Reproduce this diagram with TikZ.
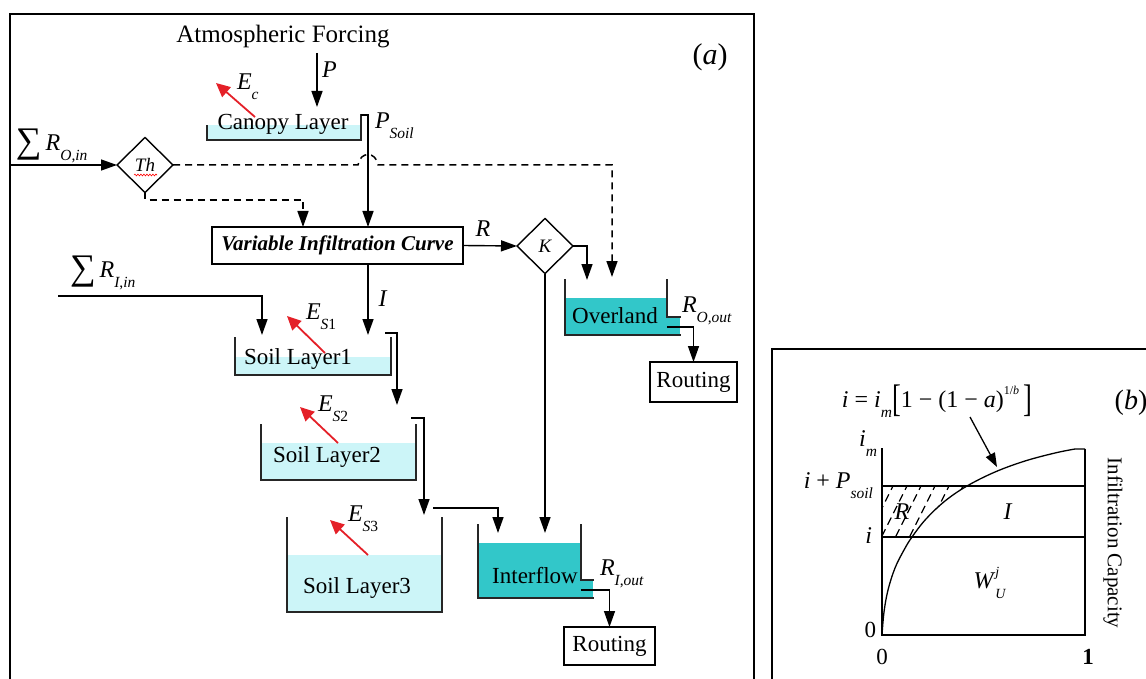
\documentclass[tikz,border=0pt]{standalone}
\usepackage{fontspec}
\usepackage{graphicx}
\setmainfont{Liberation Serif}
\usetikzlibrary{arrows.meta,shapes.geometric,decorations.pathmorphing,calc}

\definecolor{layerfill}{RGB}{204,245,248}
\definecolor{flowfill}{RGB}{50,199,201}
\definecolor{evapred}{RGB}{228,32,40}

% symbol with a lowered subscript
\newcommand\subsc[2]{#1\raisebox{-0.42em}{\fontsize{15.5}{16}\selectfont #2}}
% large summation sign
\newcommand\bigsum{\raisebox{-0.1em}{\fontsize{36}{36}\selectfont ∑}}

\tikzset{
  every node/.style={inner sep=0pt, outer sep=0pt},
  txt/.style={font=\fontsize{23}{26}\selectfont},
  var/.style={font=\fontsize{24}{26}\selectfont},
  wall/.style={line width=1.8pt, draw=black!85, line cap=rect},
  flow/.style={line width=1.4pt, -{Triangle[length=16pt,width=11pt]}},
  dflow/.style={flow, line width=1.5pt, dash pattern=on 7pt off 5pt},
  evap/.style={line width=1.8pt, evapred, -{Triangle[length=14pt,width=13pt]}},
  gate/.style={diamond, draw, line width=1.4pt, minimum width=56pt, minimum height=55pt,
               font=\fontsize{19}{20}\selectfont\itshape},
  procbox/.style={draw, line width=1.4pt, rectangle},
  plotline/.style={line width=1.3pt},
}

\begin{document}
\begin{tikzpicture}[x=1pt,y=-1pt]
\useasboundingbox (0,0) rectangle (1146,679);
\clip (0,0) rectangle (1146,679);

% ---------------- panel frames ----------------
\draw[line width=1.8pt] (10,14) rectangle (754,700);
\draw[line width=1.8pt] (772,349) rectangle (1170,700);

% ---------------- panel (a) ----------------
\node[font=\fontsize{25}{26}\selectfont] (atm) at (283,37) {Atmospheric Forcing};
\node[font=\fontsize{30}{30}\selectfont] (tagA) at (710,57) {(\textit{a})};

% canopy layer
\fill[layerfill] (207,125) rectangle (361,140);
\draw[wall] (207,126) -- (207,140) -- (361,140) -- (361,115);
\node[txt] (canopy) at (283,124) {Canopy Layer};
\coordinate (ptop) at (317,53);
\coordinate (canopyin) at (317,107);
\draw[flow] (ptop) -- (canopyin);
\node[var, anchor=west] (plab) at (322,70) {\textit{P}};
\coordinate (ecfrom) at (255,117);
\coordinate (ecto) at (216,83);
\draw[evap] (ecfrom) -- (ecto);
\node[var, anchor=west] (ec) at (237,87) {\subsc{\textit{E}}{\textit{c}}};

% decision nodes and infiltration curve
\node[gate] (th) at (145,165) {Th};
\draw[red, line width=0.6pt, decorate, decoration={snake, amplitude=0.9pt, segment length=3pt}] (134,175) -- (157,175);
\node[gate] (k) at (545,246) {K};
\node[procbox, minimum width=251pt, minimum height=37pt,
      font=\fontsize{21}{22}\selectfont\bfseries\itshape] (vic) at (337.5,245.5) {Variable Infiltration Curve};

% surface inflow and threshold
\node[var, anchor=west] (roin) at (16,146) {\bigsum\,\subsc{\textit{R}}{\textit{O},\textit{in}}};
\coordinate (roinstart) at (10,165);
\draw[flow] (roinstart) -- (th.west);

% canopy throughfall
\coordinate (canopyout) at (361,115);
\coordinate (psoil) at (368,115);
\draw[flow] (canopyout) -- (psoil) -- (psoil |- vic.north);
\node[var, anchor=west] (psoillab) at (375,126) {\subsc{\textit{P}}{\textit{Soil}}};

% dashed threshold routes (hop over the throughfall line)
\coordinate (ovin2) at (612,277);
\draw[dflow] (th.east) -- (358,165) .. controls (360,151) and (376,151) .. (378,165) -| (ovin2);
\coordinate (vicin1) at (303,227);
\draw[dflow] (th.south) -- (145,200) -| (vicin1);

% runoff
\draw[flow] (vic.east) -- (k.west);
\node[var] (rlabA) at (483,229) {\textit{R}};
\coordinate (ovin1) at (587,280);
\draw[flow] (k.east) -| (ovin1);
\coordinate (ifin2) at (545,533);
\draw[flow] (k.south) -- (ifin2);

% overland store
\fill[flowfill] (565,298) rectangle (667,335);
\fill[flowfill] (667,317) rectangle (680,335);
\draw[wall] (565,280) -- (565,335) -- (680,335);
\draw[wall] (667,280) -- (667,317) -- (680,317);
\node[txt] (overland) at (615,316) {Overland};
\node[var, anchor=west] (roout) at (682,311) {\subsc{\textit{R}}{\textit{O},\textit{out}}};
\node[procbox, txt, minimum width=87pt, minimum height=40pt] (route1) at (693.5,382) {Routing};
\coordinate (ovout) at (667,327);
\draw[flow] (ovout) -| (route1.north);

% soil layer 1
\fill[layerfill] (235,357) rectangle (391,375);
\draw[wall] (235,338) -- (235,375) -- (391,375) -- (391,338);
\node[txt] (soil1) at (298,359) {Soil Layer1};
\coordinate (soil1inI) at (368,335);
\draw[flow] (psoil |- vic.south) -- (soil1inI);
\node[var] (ilabA) at (383,299) {\textit{I}};
\node[var, anchor=west] (riin) at (70,273) {\bigsum\,\subsc{\textit{R}}{\textit{I},\textit{in}}};
\coordinate (riinstart) at (58,296);
\coordinate (soil1in) at (262,335);
\draw[flow] (riinstart) -| (soil1in);
\coordinate (es1from) at (325,353);
\coordinate (es1to) at (287,316);
\draw[evap] (es1from) -- (es1to);
\node[var, anchor=west] (es1) at (306,317) {\subsc{\textit{E}}{\textit{S}1}};

% soil layer 2
\fill[layerfill] (261,443) rectangle (416,480);
\draw[wall] (261,425) -- (261,480) -- (416,480) -- (416,425);
\node[txt] (soil2) at (327,457) {Soil Layer2};
\coordinate (soil1out) at (385,333);
\coordinate (soil2in) at (397,405);
\draw[flow] (soil1out) -| (soil2in);
\coordinate (es2from) at (338,443);
\coordinate (es2to) at (300,407);
\draw[evap] (es2from) -- (es2to);
\node[var, anchor=west] (es2) at (318,409) {\subsc{\textit{E}}{\textit{S}2}};

% soil layer 3
\fill[layerfill] (287,555) rectangle (442,612);
\draw[wall] (287,518) -- (287,612) -- (442,612) -- (442,518);
\node[txt] (soil3) at (357,588) {Soil Layer3};
\coordinate (soil2out) at (411,418);
\coordinate (soil3in) at (424,515);
\draw[flow] (soil2out) -| (soil3in);
\coordinate (es3from) at (368,555);
\coordinate (es3to) at (330,520);
\draw[evap] (es3from) -- (es3to);
\node[var, anchor=west] (es3) at (348,519) {\subsc{\textit{E}}{\textit{S}3}};

% interflow store
\fill[flowfill] (478,543) rectangle (581,598);
\fill[flowfill] (581,580) rectangle (593,598);
\draw[wall] (478,525) -- (478,598) -- (593,598);
\draw[wall] (581,525) -- (581,580) -- (593,580);
\node[txt] (interflow) at (535,576) {Interflow};
\coordinate (soil3out) at (433,508);
\coordinate (ifin1) at (498,533);
\draw[flow] (soil3out) -| (ifin1);
\node[var, anchor=west] (riout) at (600,574) {\subsc{\textit{R}}{\textit{I},\textit{out}}};
\node[procbox, txt, minimum width=91pt, minimum height=38pt] (route2) at (609.5,646) {Routing};
\coordinate (ifout) at (581,590);
\draw[flow] (ifout) -| (route2.north);

% ---------------- panel (b) ----------------
\node[font=\fontsize{28}{28}\selectfont] (tagB) at (1131,403) {(\textit{b})};
\node[var] (formula) at (937,401) {\textit{i} = \subsc{\textit{i}}{\textit{m}}\raisebox{-0.15em}{\scalebox{1.1}[1.6]{[}}1 − (1 − \textit{a})\raisebox{0.55em}{\fontsize{12}{12}\selectfont 1/\textit{b}}\,\raisebox{-0.15em}{\scalebox{1.1}[1.6]{]}}};

% hatched runoff wedge
\begin{scope}
  \clip (882,486) -- (967,486) -- (945,501) -- (926,519) -- (912,537) -- (882,537) -- cycle;
  \foreach \k in {0,...,8}
    \draw[line width=1.2pt, dash pattern=on 8pt off 5pt] (862+\k*14,548) -- ++(34,-68);
\end{scope}

\draw[plotline] (882,448) -- (882,635) -- (1085,635) -- (1085,449);
\draw[plotline] (882,486) -- (1085,486);
\draw[plotline] (882,537) -- (1085,537);
\draw[plotline] plot[smooth, tension=0.6] coordinates {(882,635) (884,612) (888,590) (895,568) (904,550) (912,537) (926,519) (945,501) (967,486) (995,472) (1025,461) (1055,453) (1075,449)} -- (1085,449);

\coordinate (curvept) at (997,467);
\draw[plotline, -{Triangle[length=14pt,width=10pt]}] (970,417) -- (curvept);

\node[var, anchor=east] (imlab) at (877,444) {\subsc{\textit{i}}{\textit{m}}};
\node[var, anchor=east] (ipsoil) at (873,486) {\textit{i} + \subsc{\textit{P}}{\textit{soil}}};
\node[var, anchor=east] (ilabB) at (872,536) {\textit{i}};
\node[txt, anchor=east] (zeroy) at (876,630) {0};
\node[txt] (zerox) at (882,657) {0};
\node[txt] (onex) at (1088,657) {\textbf{1}};
\node[var] (rlabB) at (902,512) {\textit{R}};
\node[var] (ilabC) at (1008,512) {\textit{I}};
\node[var] (wlab) at (990,583) {\textit{W}\rlap{\raisebox{0.5em}{\fontsize{14}{14}\selectfont\textit{j}}}\raisebox{-0.4em}{\fontsize{14}{14}\selectfont\textit{U}}};
\node[font=\fontsize{21}{21}\selectfont, rotate=-90] (capacity) at (1113,543) {Infiltration Capacity};
\end{tikzpicture}
\end{document}
